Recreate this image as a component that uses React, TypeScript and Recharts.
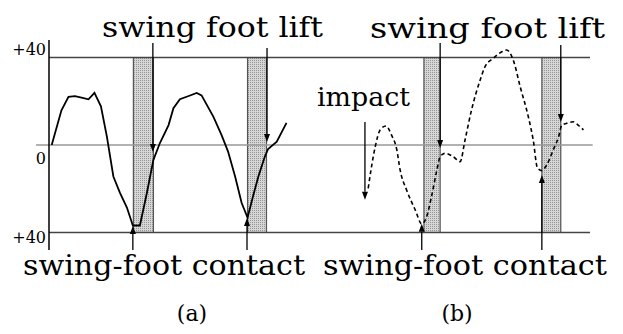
import React from 'react';
import { LineChart, Line, XAxis, YAxis, ReferenceLine, ReferenceArea } from 'recharts';

// x in percent of the time strip (both panels share one axis), y in degrees
const walkA = [
  { t: 0.5, v: 0 }, { t: 2.3, v: 15.9 }, { t: 3.6, v: 22 }, { t: 4.8, v: 22.3 },
  { t: 6.0, v: 21.7 }, { t: 7.3, v: 20.9 }, { t: 8.4, v: 23.8 }, { t: 9.6, v: 17.7 },
  { t: 10.7, v: 3.8 }, { t: 11.9, v: -14.4 }, { t: 13.1, v: -21.8 }, { t: 14.4, v: -28.6 },
  { t: 15.5, v: -36.8 }, { t: 16.8, v: -36.8 }, { t: 18.1, v: -21.8 }, { t: 19.3, v: -6.8 },
  { t: 20.5, v: 0.9 }, { t: 22.1, v: 9.1 }, { t: 23.0, v: 16.8 }, { t: 24.2, v: 20.9 },
  { t: 25.7, v: 22.3 }, { t: 27.3, v: 23.8 }, { t: 28.2, v: 22.7 }, { t: 30.4, v: 12.9 },
  { t: 31.9, v: 4.5 }, { t: 33.1, v: -3 }, { t: 34.4, v: -14.4 }, { t: 35.6, v: -26.4 },
  { t: 36.7, v: -33.2 }, { t: 37.7, v: -23.5 }, { t: 38.7, v: -14.4 }, { t: 39.9, v: -5.3 },
  { t: 40.5, v: -1.8 }, { t: 42.1, v: 1.5 }, { t: 43.9, v: 10.1 },
];

const walkB = [
  { t: 59.0, v: -19.8 }, { t: 60.3, v: -0.8 }, { t: 61.2, v: 6.9 }, { t: 62.3, v: 8.7 },
  { t: 63.3, v: 4.6 }, { t: 64.3, v: -2.3 }, { t: 64.9, v: -11.4 }, { t: 66.1, v: -20.6 },
  { t: 67.7, v: -29.7 }, { t: 68.9, v: -36.1 }, { t: 69.8, v: -32.8 }, { t: 70.7, v: -23.6 },
  { t: 71.7, v: -11.4 }, { t: 72.3, v: -5.3 }, { t: 73.2, v: -3.8 }, { t: 74.7, v: -5.3 },
  { t: 76.0, v: -7.6 }, { t: 76.9, v: 2.3 }, { t: 78.1, v: 16 }, { t: 79.7, v: 29.7 },
  { t: 80.6, v: 35.8 }, { t: 82.1, v: 39.6 }, { t: 83.7, v: 42.6 }, { t: 84.6, v: 43.4 },
  { t: 85.8, v: 38.9 }, { t: 87.1, v: 26.6 }, { t: 88.6, v: 12.9 }, { t: 89.5, v: 2.3 },
  { t: 90.3, v: -10.6 }, { t: 91.1, v: -11.7 }, { t: 92.0, v: -9.1 }, { t: 93.2, v: -2.3 },
  { t: 94.2, v: 3.8 }, { t: 94.8, v: 9.1 }, { t: 95.7, v: 9.9 }, { t: 96.9, v: 10.6 },
  { t: 97.8, v: 9.1 }, { t: 98.8, v: 6.9 },
];

// double-support phases (shaded)
const supportPhases = [
  { from: 15.6, to: 19.3 },
  { from: 36.7, to: 40.2 },
  { from: 69.3, to: 72.3 },
  { from: 91.1, to: 94.6 },
];

// arrows: x position, start and end value
const liftArrows = [
  { t: 19.2, from: 46.6, to: -3.2 },
  { t: 40.3, from: 44.3, to: 1.4 },
  { t: 72.3, from: 46.6, to: -1.4 },
  { t: 94.6, from: 45.7, to: 10.5 },
];
const contactArrows = [
  { t: 15.5, from: -48, to: -37 },
  { t: 36.6, from: -48, to: -33.4 },
  { t: 68.9, from: -48, to: -36 },
  { t: 91.1, from: -48, to: -13.7 },
];
const impactArrows = [{ t: 58.4, from: 10.5, to: -25 }];

const yTicks = [40, 0, -40];
const yTickText: Record<number, string> = { 40: '+40', 0: '0', '-40': '+40' };

const serif = '"DejaVu Serif", serif';

const ArrowShape = (props: any) => {
  const { x1, y1, x2, y2 } = props;
  if (x1 == null) return null;
  const dir = y2 > y1 ? 1 : -1;
  const head = 8;
  return (
    <g>
      <line x1={x1} y1={y1} x2={x2} y2={y2 - dir * head} stroke="#000" strokeWidth={1.3} />
      <polygon
        points={`${x2},${y2} ${x2 - 3},${y2 - dir * head} ${x2 + 3},${y2 - dir * head}`}
        fill="#000"
      />
    </g>
  );
};

const YTick = (props: any) => {
  const { x, y, payload } = props;
  const v = payload.value;
  const dy = v === 40 ? -3 : v === 0 ? 19 : 10;
  return (
    <text x={x + 5} y={y + dy} textAnchor="end" fontFamily={serif} fontSize={16} fill="#000">
      {yTickText[v]}
    </text>
  );
};

const labelStyle = { fontFamily: serif, fill: '#000' };

export default function App() {
  const arrows = [...liftArrows, ...contactArrows, ...impactArrows];
  return (
    <div style={{ position: 'absolute', left: 0, top: 0, width: 623, height: 334, background: '#fff' }}>
      <LineChart width={623} height={334} margin={{ top: 40, right: 33, bottom: 84, left: 0 }}>
        <defs>
          <pattern id="stipple" width="2" height="2" patternUnits="userSpaceOnUse">
            <rect width="2" height="2" fill="#d6d6d6" />
            <rect width="1" height="1" fill="#969696" />
          </pattern>
        </defs>
        <XAxis type="number" dataKey="t" domain={[0, 100]} hide />
        <YAxis
          type="number"
          domain={[-48, 48]}
          ticks={yTicks}
          width={49}
          tickLine={false}
          axisLine={{ stroke: '#000', strokeWidth: 1.5 }}
          tick={<YTick />}
          interval={0}
        />
        {supportPhases.map((p, i) => (
          <ReferenceArea
            key={`s${i}`}
            x1={p.from}
            x2={p.to}
            y1={-40}
            y2={40}
            fill="url(#stipple)"
            fillOpacity={1}
            stroke="#555"
            strokeWidth={1.2}
          />
        ))}
        <ReferenceLine y={40} stroke="#444" strokeWidth={1.5} />
        <ReferenceLine
          segment={[{ x: -2.4, y: 0 }, { x: 100.5, y: 0 }]}
          ifOverflow="visible"
          stroke="#999"
          strokeWidth={1.5}
        />
        <ReferenceLine y={-40} stroke="#444" strokeWidth={1.5} />
        <Line
          data={walkA}
          dataKey="v"
          type="linear"
          stroke="#000"
          strokeWidth={1.8}
          dot={false}
          isAnimationActive={false}
        />
        <Line
          data={walkB}
          dataKey="v"
          type="monotone"
          stroke="#000"
          strokeWidth={1.6}
          strokeDasharray="4 3"
          dot={false}
          isAnimationActive={false}
        />
        {arrows.map((a, i) => (
          <ReferenceLine
            key={`a${i}`}
            segment={[{ x: a.t, y: a.from }, { x: a.t, y: a.to }]}
            ifOverflow="visible"
            shape={<ArrowShape />}
          />
        ))}
      </LineChart>
      <svg width={623} height={334} style={{ position: 'absolute', left: 0, top: 0, pointerEvents: 'none' }}>
        <text x={102} y={37} fontSize={28} textLength={221} lengthAdjust="spacingAndGlyphs" style={labelStyle}>swing foot lift</text>
        <text x={370} y={38} fontSize={28} textLength={235} lengthAdjust="spacingAndGlyphs" style={labelStyle}>swing foot lift</text>
        <text x={317} y={106} fontSize={26} textLength={93} lengthAdjust="spacingAndGlyphs" style={labelStyle}>impact</text>
        <text x={23} y={275} fontSize={28} textLength={282} lengthAdjust="spacingAndGlyphs" style={labelStyle}>swing-foot contact</text>
        <text x={323} y={275} fontSize={28} textLength={284} lengthAdjust="spacingAndGlyphs" style={labelStyle}>swing-foot contact</text>
        <text x={192} y={321} textAnchor="middle" fontSize={22} style={labelStyle}>(a)</text>
        <text x={457} y={321} textAnchor="middle" fontSize={22} style={labelStyle}>(b)</text>
      </svg>
    </div>
  );
}
